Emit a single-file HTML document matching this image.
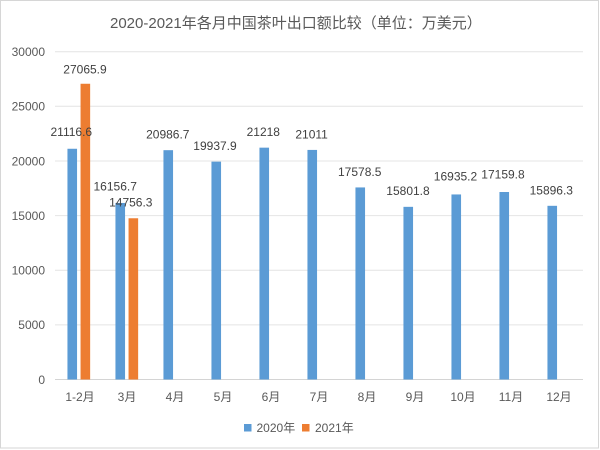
<!DOCTYPE html>
<html>
<head>
<meta charset="utf-8">
<style>
  html,body{margin:0;padding:0;background:#fff;}
  svg{display:block;}
  text{font-family:"Liberation Sans","Noto Sans CJK SC",sans-serif;}
</style>
</head>
<body>
<svg width="600" height="450" viewBox="0 0 600 450" xmlns="http://www.w3.org/2000/svg">
  <rect x="0" y="0" width="600" height="450" fill="#ffffff"/>
  <rect x="0.5" y="0.5" width="598" height="447.5" fill="none" stroke="#d6d6d6" stroke-width="1"/>

  <!-- title -->
  <text x="110" y="28" font-size="15" fill="#595959">2020-2021年各月中国茶叶出口额比较（单位：万美元）</text>

  <!-- gridlines -->
  <g stroke="#e4e4e4" stroke-width="1">
    <line x1="55" x2="583" y1="51.7" y2="51.7"/>
    <line x1="55" x2="583" y1="106.3" y2="106.3"/>
    <line x1="55" x2="583" y1="161" y2="161"/>
    <line x1="55" x2="583" y1="215.6" y2="215.6"/>
    <line x1="55" x2="583" y1="270.2" y2="270.2"/>
    <line x1="55" x2="583" y1="324.9" y2="324.9"/>
  </g>
  <line x1="55" x2="583" y1="379.5" y2="379.5" stroke="#d4d4d4" stroke-width="1"/>

  <!-- y labels -->
  <g font-size="12" fill="#595959" text-anchor="end">
    <text x="45" y="56">30000</text>
    <text x="45" y="110.6">25000</text>
    <text x="45" y="165.3">20000</text>
    <text x="45" y="219.9">15000</text>
    <text x="45" y="274.5">10000</text>
    <text x="45" y="329.2">5000</text>
    <text x="45" y="383.8">0</text>
  </g>

  <!-- blue bars (2020) -->
  <g fill="#5b9bd5">
    <rect x="67.45" y="148.76" width="9.6" height="230.74"/>
    <rect x="115.45" y="202.96" width="9.6" height="176.54"/>
    <rect x="163.45" y="150.18" width="9.6" height="229.32"/>
    <rect x="211.45" y="161.64" width="9.6" height="217.86"/>
    <rect x="259.45" y="147.66" width="9.6" height="231.84"/>
    <rect x="307.45" y="149.92" width="9.6" height="229.58"/>
    <rect x="355.45" y="187.43" width="9.6" height="192.07"/>
    <rect x="403.45" y="206.84" width="9.6" height="172.66"/>
    <rect x="451.45" y="194.45" width="9.6" height="185.05"/>
    <rect x="499.45" y="192.0" width="9.6" height="187.5"/>
    <rect x="547.45" y="205.81" width="9.6" height="173.69"/>
  </g>
  <!-- orange bars (2021) -->
  <g fill="#ed7d31">
    <rect x="80.55" y="83.76" width="9.6" height="295.74"/>
    <rect x="128.55" y="218.26" width="9.6" height="161.24"/>
  </g>

  <!-- data labels -->
  <g font-size="12" fill="#404040" text-anchor="middle">
    <text x="85" y="73.3">27065.9</text>
    <text x="71.3" y="136">21116.6</text>
    <text x="115.2" y="190.3">16156.7</text>
    <text x="130.8" y="206.6">14756.3</text>
    <text x="167.8" y="138.6">20986.7</text>
    <text x="215" y="150">19937.9</text>
    <text x="263.3" y="136">21218</text>
    <text x="311.6" y="138.6">21011</text>
    <text x="359.7" y="176">17578.5</text>
    <text x="408" y="195">15801.8</text>
    <text x="455.5" y="180.3">16935.2</text>
    <text x="503" y="178.6">17159.8</text>
    <text x="551.3" y="194.3">15896.3</text>
  </g>

  <!-- x labels -->
  <g font-size="12" fill="#595959" text-anchor="middle">
    <text x="80" y="401">1-2月</text>
    <text x="127" y="401">3月</text>
    <text x="175" y="401">4月</text>
    <text x="223" y="401">5月</text>
    <text x="271" y="401">6月</text>
    <text x="319" y="401">7月</text>
    <text x="367" y="401">8月</text>
    <text x="415" y="401">9月</text>
    <text x="463" y="401">10月</text>
    <text x="511" y="401">11月</text>
    <text x="559" y="401">12月</text>
  </g>

  <!-- legend -->
  <rect x="244" y="424" width="7.5" height="7.5" fill="#5b9bd5"/>
  <text x="256.5" y="432" font-size="12" fill="#595959">2020年</text>
  <rect x="302" y="424" width="7.5" height="7.5" fill="#ed7d31"/>
  <text x="315" y="432" font-size="12" fill="#595959">2021年</text>
</svg>
</body>
</html>
